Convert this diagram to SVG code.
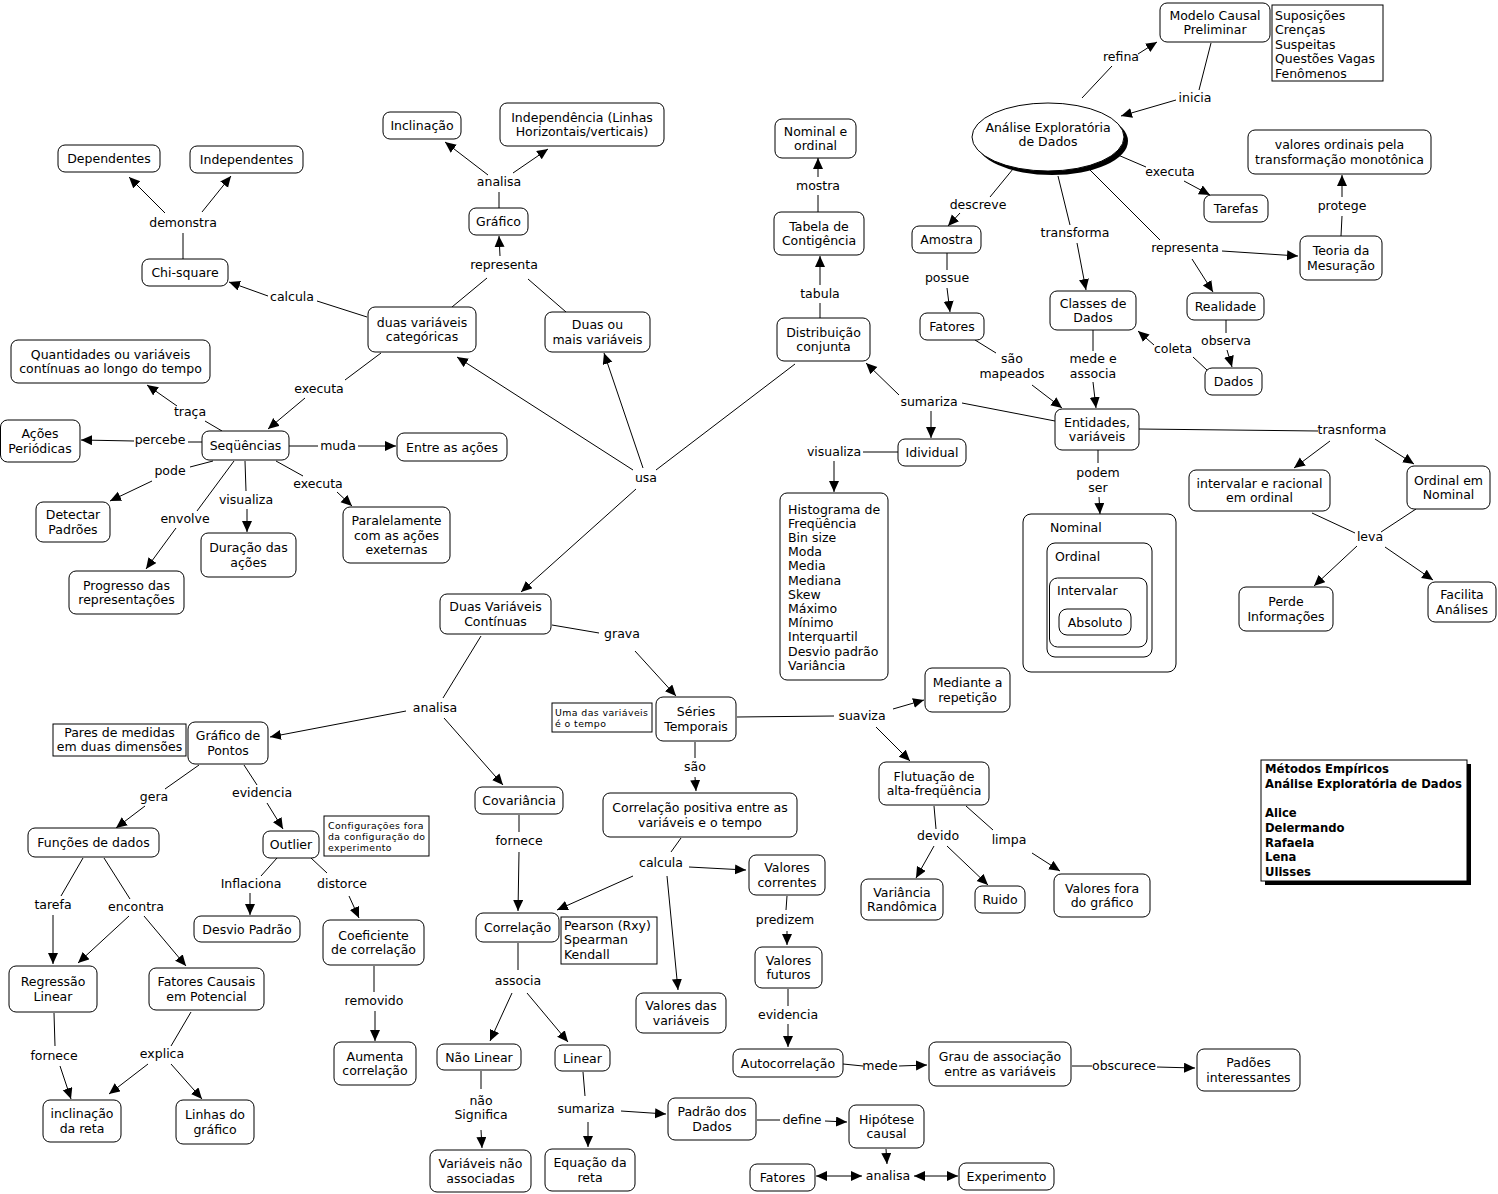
<svg xmlns="http://www.w3.org/2000/svg" width="1498" height="1194" viewBox="0 0 1498 1194">
<defs>
<marker id="ah" markerUnits="userSpaceOnUse" markerWidth="12" markerHeight="11" refX="11" refY="5" orient="auto-start-reverse" viewBox="0 0 12 11"><path d="M0,0 L11,5 L0,10 z" fill="#000"/></marker>
<style>
text{font-family:"DejaVu Sans","Verdana",sans-serif;font-size:12.5px;fill:#000}
.t{text-anchor:middle}
.l{text-anchor:middle}
.sm{font-size:9.4px;letter-spacing:0.4px}
.bd{font-weight:bold;font-size:11.6px}
.n{fill:#fff;stroke:#000;stroke-width:1}
.r{fill:#fff;stroke:#000;stroke-width:1}
#connectors line{stroke:#000;stroke-width:1;fill:none}
#connectors line.a{marker-end:url(#ah)}
#connectors line.b{marker-end:url(#ah);marker-start:url(#ah)}
</style>
</defs>
<rect x="0" y="0" width="1498" height="1194" fill="#fff"/>

<g id="connectors">
<line x1="1082" y1="98" x2="1112" y2="66"/>
<line class="a" x1="1138" y1="54" x2="1157" y2="42"/>
<line x1="1211" y1="43" x2="1199" y2="90"/>
<line class="a" x1="1176" y1="100" x2="1121" y2="116"/>
<line x1="1118" y1="155" x2="1146" y2="167"/>
<line class="a" x1="1184" y1="181" x2="1210" y2="195"/>
<line x1="1013" y1="169" x2="990" y2="197"/>
<line class="a" x1="960" y1="213" x2="948" y2="226"/>
<line x1="1058" y1="176" x2="1070" y2="225"/>
<line class="a" x1="1077" y1="243" x2="1086" y2="290"/>
<line x1="1090" y1="170" x2="1160" y2="240"/>
<line class="a" x1="1222" y1="251" x2="1298" y2="256"/>
<line class="a" x1="1192" y1="259" x2="1213" y2="292"/>
<line x1="1341" y1="236" x2="1342" y2="216"/>
<line class="a" x1="1342" y1="197" x2="1342" y2="175"/>
<line x1="947" y1="253" x2="947" y2="270"/>
<line class="a" x1="947" y1="288" x2="950" y2="312"/>
<line x1="1226" y1="320" x2="1226" y2="333"/>
<line class="a" x1="1227" y1="350" x2="1232" y2="367"/>
<line x1="1207" y1="370" x2="1193" y2="357"/>
<line class="a" x1="1154" y1="345" x2="1138" y2="331"/>
<line x1="1093" y1="330" x2="1093" y2="351"/>
<line class="a" x1="1093" y1="382" x2="1096" y2="408"/>
<line x1="975" y1="340" x2="996" y2="353"/>
<line class="a" x1="1032" y1="385" x2="1062" y2="408"/>
<line x1="1055" y1="421" x2="962" y2="403"/>
<line class="a" x1="899" y1="395" x2="866" y2="363"/>
<line class="a" x1="931" y1="411" x2="931" y2="438"/>
<line x1="898" y1="452" x2="863" y2="452"/>
<line class="a" x1="834" y1="461" x2="834" y2="492"/>
<line x1="820" y1="318" x2="820" y2="303"/>
<line class="a" x1="820" y1="285" x2="820" y2="256"/>
<line x1="818" y1="212" x2="818" y2="195"/>
<line class="a" x1="818" y1="177" x2="818" y2="158"/>
<line x1="1098" y1="450" x2="1098" y2="463"/>
<line class="a" x1="1099" y1="497" x2="1100" y2="514"/>
<line x1="1139" y1="429" x2="1318" y2="431"/>
<line class="a" x1="1330" y1="441" x2="1294" y2="468"/>
<line class="a" x1="1375" y1="439" x2="1414" y2="464"/>
<line x1="1312" y1="513" x2="1355" y2="533"/>
<line x1="1416" y1="509" x2="1381" y2="532"/>
<line class="a" x1="1357" y1="546" x2="1314" y2="586"/>
<line class="a" x1="1385" y1="547" x2="1433" y2="580"/>
<line x1="737" y1="717" x2="834" y2="716"/>
<line class="a" x1="893" y1="709" x2="924" y2="700"/>
<line class="a" x1="876" y1="727" x2="910" y2="761"/>
<line x1="934" y1="806" x2="936" y2="829"/>
<line class="a" x1="934" y1="846" x2="916" y2="878"/>
<line class="a" x1="947" y1="846" x2="988" y2="885"/>
<line x1="966" y1="806" x2="993" y2="830"/>
<line class="a" x1="1032" y1="853" x2="1060" y2="871"/>
<line x1="656" y1="470" x2="795" y2="364"/>
<line class="a" x1="633" y1="470" x2="457" y2="357"/>
<line class="a" x1="643" y1="468" x2="604" y2="353"/>
<line class="a" x1="636" y1="489" x2="521" y2="592"/>
<line x1="566" y1="312" x2="528" y2="279"/>
<line x1="452" y1="307" x2="487" y2="278"/>
<line class="a" x1="500" y1="256" x2="499" y2="236"/>
<line x1="499" y1="208" x2="499" y2="192"/>
<line class="a" x1="488" y1="175" x2="445" y2="142"/>
<line class="a" x1="513" y1="173" x2="548" y2="149"/>
<line x1="183" y1="259" x2="183" y2="233"/>
<line class="a" x1="165" y1="213" x2="129" y2="177"/>
<line class="a" x1="202" y1="212" x2="231" y2="176"/>
<line x1="367" y1="317" x2="317" y2="301"/>
<line class="a" x1="268" y1="296" x2="229" y2="282"/>
<line x1="381" y1="353" x2="345" y2="380"/>
<line class="a" x1="305" y1="398" x2="268" y2="429"/>
<line x1="222" y1="431" x2="205" y2="421"/>
<line class="a" x1="177" y1="406" x2="147" y2="385"/>
<line x1="202" y1="442" x2="188" y2="442"/>
<line class="a" x1="134" y1="441" x2="81" y2="440"/>
<line x1="289" y1="446" x2="318" y2="446"/>
<line class="a" x1="358" y1="446" x2="396" y2="446"/>
<line x1="213" y1="461" x2="190" y2="467"/>
<line class="a" x1="152" y1="481" x2="110" y2="501"/>
<line x1="245" y1="461" x2="246" y2="491"/>
<line class="a" x1="247" y1="509" x2="247" y2="532"/>
<line x1="276" y1="461" x2="303" y2="476"/>
<line class="a" x1="337" y1="492" x2="352" y2="506"/>
<line x1="234" y1="461" x2="197" y2="511"/>
<line class="a" x1="176" y1="528" x2="146" y2="569"/>
<line x1="552" y1="625" x2="599" y2="633"/>
<line class="a" x1="635" y1="651" x2="676" y2="696"/>
<line x1="481" y1="636" x2="443" y2="698"/>
<line class="a" x1="406" y1="711" x2="270" y2="737"/>
<line class="a" x1="444" y1="718" x2="503" y2="785"/>
<line x1="199" y1="765" x2="165" y2="789"/>
<line class="a" x1="145" y1="806" x2="116" y2="828"/>
<line x1="244" y1="765" x2="257" y2="785"/>
<line class="a" x1="267" y1="803" x2="283" y2="829"/>
<line x1="277" y1="858" x2="261" y2="876"/>
<line class="a" x1="250" y1="893" x2="250" y2="915"/>
<line x1="311" y1="858" x2="327" y2="873"/>
<line class="a" x1="349" y1="896" x2="359" y2="918"/>
<line x1="374" y1="966" x2="374" y2="992"/>
<line class="a" x1="375" y1="1011" x2="375" y2="1041"/>
<line x1="83" y1="858" x2="61" y2="896"/>
<line class="a" x1="53" y1="915" x2="53" y2="964"/>
<line x1="104" y1="858" x2="130" y2="899"/>
<line class="a" x1="129" y1="916" x2="78" y2="963"/>
<line class="a" x1="144" y1="916" x2="186" y2="966"/>
<line x1="54" y1="1013" x2="55" y2="1046"/>
<line class="a" x1="60" y1="1066" x2="71" y2="1099"/>
<line x1="191" y1="1012" x2="171" y2="1046"/>
<line class="a" x1="148" y1="1064" x2="109" y2="1094"/>
<line class="a" x1="171" y1="1064" x2="202" y2="1099"/>
<line x1="519" y1="815" x2="519" y2="832"/>
<line class="a" x1="519" y1="852" x2="518" y2="911"/>
<line x1="695" y1="742" x2="695" y2="758"/>
<line class="a" x1="695" y1="777" x2="696" y2="791"/>
<line x1="681" y1="838" x2="671" y2="852"/>
<line class="a" x1="633" y1="876" x2="557" y2="910"/>
<line class="a" x1="667" y1="876" x2="678" y2="990"/>
<line class="a" x1="689" y1="867" x2="746" y2="870"/>
<line x1="518" y1="943" x2="518" y2="970"/>
<line class="a" x1="512" y1="993" x2="490" y2="1041"/>
<line class="a" x1="527" y1="993" x2="568" y2="1042"/>
<line x1="481" y1="1071" x2="481" y2="1089"/>
<line class="a" x1="481" y1="1130" x2="482" y2="1148"/>
<line x1="583" y1="1072" x2="585" y2="1096"/>
<line class="a" x1="588" y1="1122" x2="588" y2="1147"/>
<line class="a" x1="621" y1="1111" x2="666" y2="1114"/>
<line x1="787" y1="896" x2="786" y2="910"/>
<line class="a" x1="787" y1="931" x2="787" y2="945"/>
<line x1="788" y1="989" x2="788" y2="1006"/>
<line class="a" x1="788" y1="1024" x2="788" y2="1047"/>
<line x1="843" y1="1064" x2="863" y2="1066"/>
<line class="a" x1="899" y1="1066" x2="927" y2="1065"/>
<line x1="1072" y1="1066" x2="1092" y2="1066"/>
<line class="a" x1="1157" y1="1067" x2="1195" y2="1068"/>
<line x1="757" y1="1120" x2="780" y2="1120"/>
<line class="a" x1="825" y1="1121" x2="847" y2="1122"/>
<line class="a" x1="886" y1="1149" x2="887" y2="1164"/>
<line class="b" x1="862" y1="1176" x2="816" y2="1176"/>
<line class="b" x1="914" y1="1176" x2="958" y2="1176"/>
</g>

<g id="labels">
<text class="l" x="1121" y="61">refina</text>
<text class="l" x="1195" y="102">inicia</text>
<text class="l" x="1170" y="176">executa</text>
<text class="l" x="978" y="209">descreve</text>
<text class="l" x="1075" y="237">transforma</text>
<text class="l" x="1185" y="252">representa</text>
<text class="l" x="1342" y="210">protege</text>
<text class="l" x="947" y="282">possue</text>
<text class="l" x="1226" y="345">observa</text>
<text class="l" x="1173" y="353">coleta</text>
<text class="l" x="1093" y="363">mede e</text>
<text class="l" x="1093" y="378">associa</text>
<text class="l" x="1012" y="363">são</text>
<text class="l" x="1012" y="378">mapeados</text>
<text class="l" x="929" y="406">sumariza</text>
<text class="l" x="834" y="456">visualiza</text>
<text class="l" x="820" y="298">tabula</text>
<text class="l" x="818" y="190">mostra</text>
<text class="l" x="1098" y="477">podem</text>
<text class="l" x="1098" y="492">ser</text>
<text class="l" x="1352" y="434">trasnforma</text>
<text class="l" x="1370" y="541">leva</text>
<text class="l" x="862" y="720">suaviza</text>
<text class="l" x="938" y="840">devido</text>
<text class="l" x="1009" y="844">limpa</text>
<text class="l" x="646" y="482">usa</text>
<text class="l" x="504" y="269">representa</text>
<text class="l" x="499" y="186">analisa</text>
<text class="l" x="183" y="227">demonstra</text>
<text class="l" x="292" y="301">calcula</text>
<text class="l" x="319" y="393">executa</text>
<text class="l" x="190" y="416">traça</text>
<text class="l" x="160" y="444">percebe</text>
<text class="l" x="338" y="450">muda</text>
<text class="l" x="170" y="475">pode</text>
<text class="l" x="246" y="504">visualiza</text>
<text class="l" x="318" y="488">executa</text>
<text class="l" x="185" y="523">envolve</text>
<text class="l" x="622" y="638">grava</text>
<text class="l" x="435" y="712">analisa</text>
<text class="l" x="154" y="801">gera</text>
<text class="l" x="262" y="797">evidencia</text>
<text class="l" x="251" y="888">Inflaciona</text>
<text class="l" x="342" y="888">distorce</text>
<text class="l" x="374" y="1005">removido</text>
<text class="l" x="53" y="909">tarefa</text>
<text class="l" x="136" y="911">encontra</text>
<text class="l" x="54" y="1060">fornece</text>
<text class="l" x="162" y="1058">explica</text>
<text class="l" x="519" y="845">fornece</text>
<text class="l" x="695" y="771">são</text>
<text class="l" x="661" y="867">calcula</text>
<text class="l" x="518" y="985">associa</text>
<text class="l" x="481" y="1105">não</text>
<text class="l" x="481" y="1119">Significa</text>
<text class="l" x="586" y="1113">sumariza</text>
<text class="l" x="785" y="924">predizem</text>
<text class="l" x="788" y="1019">evidencia</text>
<text class="l" x="880" y="1070">mede</text>
<text class="l" x="1124" y="1070">obscurece</text>
<text class="l" x="802" y="1124">define</text>
<text class="l" x="888" y="1180">analisa</text>
</g>

<g id="n-modelo"><rect class="n" x="1160" y="3" width="110" height="39" rx="7"/><text class="t" x="1215" y="19.75">Modelo Causal</text><text class="t" x="1215" y="34.25">Preliminar</text></g>
<g id="n-suposicoes"><rect class="r" x="1272" y="5" width="111" height="76"/><text x="1275" y="19.5">Suposições</text><text x="1275" y="34">Crenças</text><text x="1275" y="48.5">Suspeitas</text><text x="1275" y="63">Questões Vagas</text><text x="1275" y="77.5">Fenômenos</text></g>
<g id="n-aed"><ellipse cx="1052" cy="141" rx="76" ry="34" fill="#000"/><ellipse cx="1048" cy="137" rx="76" ry="34" fill="#fff" stroke="#000"/><text class="t" x="1048" y="131.5">Análise Exploratória</text><text class="t" x="1048" y="146">de Dados</text></g>
<g id="n-tarefas"><rect class="n" x="1204" y="195" width="64" height="27" rx="7"/><text class="t" x="1236" y="213">Tarefas</text></g>
<g id="n-valord"><rect class="n" x="1248" y="130" width="183" height="44" rx="7"/><text class="t" x="1339.5" y="149.25">valores ordinais pela</text><text class="t" x="1339.5" y="163.75">transformação monotônica</text></g>
<g id="n-teoria"><rect class="n" x="1300" y="236" width="82" height="44" rx="7"/><text class="t" x="1341" y="255.25">Teoria da</text><text class="t" x="1341" y="269.75">Mesuração</text></g>
<g id="n-amostra"><rect class="n" x="912" y="226" width="69" height="27" rx="7"/><text class="t" x="946.5" y="244">Amostra</text></g>
<g id="n-fatores1"><rect class="n" x="920" y="313" width="64" height="27" rx="7"/><text class="t" x="952" y="331">Fatores</text></g>
<g id="n-classes"><rect class="n" x="1050" y="291" width="86" height="39" rx="7"/><text class="t" x="1093" y="307.75">Classes de</text><text class="t" x="1093" y="322.25">Dados</text></g>
<g id="n-realidade"><rect class="n" x="1187" y="293" width="77" height="27" rx="7"/><text class="t" x="1225.5" y="311">Realidade</text></g>
<g id="n-dados"><rect class="n" x="1205" y="368" width="57" height="27" rx="7"/><text class="t" x="1233.5" y="386">Dados</text></g>
<g id="n-entidades"><rect class="n" x="1055" y="409" width="84" height="41" rx="7"/><text class="t" x="1097" y="426.75">Entidades,</text><text class="t" x="1097" y="441.25">variáveis</text></g>
<g id="n-distrib"><rect class="n" x="777" y="318" width="93" height="43" rx="7"/><text class="t" x="823.5" y="336.75">Distribuição</text><text class="t" x="823.5" y="351.25">conjunta</text></g>
<g id="n-tabela"><rect class="n" x="774" y="212" width="90" height="43" rx="7"/><text class="t" x="819" y="230.75">Tabela de</text><text class="t" x="819" y="245.25">Contigência</text></g>
<g id="n-nomord"><rect class="n" x="775" y="119" width="81" height="39" rx="7"/><text class="t" x="815.5" y="135.75">Nominal e</text><text class="t" x="815.5" y="150.25">ordinal</text></g>
<g id="n-idividual"><rect class="n" x="898" y="439" width="68" height="27" rx="7"/><text class="t" x="932" y="457">Idividual</text></g>
<g id="n-hist"><rect class="n" x="780" y="493" width="108" height="187" rx="7"/>
<text x="788" y="513.5">Histograma de</text><text x="788" y="527.7">Freqüência</text><text x="788" y="541.9">Bin size</text><text x="788" y="556.1">Moda</text><text x="788" y="570.3">Media</text><text x="788" y="584.5">Mediana</text><text x="788" y="598.7">Skew</text><text x="788" y="612.9">Máximo</text><text x="788" y="627.1">Mínimo</text><text x="788" y="641.3">Interquartil</text><text x="788" y="655.5">Desvio padrão</text><text x="788" y="669.7">Variância</text></g>
<g id="n-escalas"><rect class="n" x="1023" y="514" width="153" height="158" rx="8"/><text x="1050" y="531.5">Nominal</text>
<rect class="n" x="1047" y="543" width="105" height="114" rx="8"/><text x="1055" y="560.5">Ordinal</text>
<rect class="n" x="1049.5" y="578" width="97.5" height="69" rx="8"/><text x="1057" y="595">Intervalar</text>
<rect class="n" x="1059" y="609" width="72" height="26" rx="8"/><text class="t" x="1095" y="626.5">Absoluto</text></g>
<g id="n-intrac"><rect class="n" x="1189" y="470" width="141" height="41" rx="7"/><text class="t" x="1259.5" y="487.75">intervalar e racional</text><text class="t" x="1259.5" y="502.25">em ordinal</text></g>
<g id="n-ordnom"><rect class="n" x="1407" y="466" width="83" height="43" rx="7"/><text class="t" x="1448.5" y="484.75">Ordinal em</text><text class="t" x="1448.5" y="499.25">Nominal</text></g>
<g id="n-perde"><rect class="n" x="1239" y="587" width="94" height="44" rx="7"/><text class="t" x="1286" y="606.25">Perde</text><text class="t" x="1286" y="620.75">Informações</text></g>
<g id="n-facilita"><rect class="n" x="1428" y="582" width="68" height="40" rx="7"/><text class="t" x="1462" y="599.25">Facilita</text><text class="t" x="1462" y="613.75">Análises</text></g>
<g id="n-mediante"><rect class="n" x="925" y="668" width="85" height="44" rx="7"/><text class="t" x="967.5" y="687.25">Mediante a</text><text class="t" x="967.5" y="701.75">repetição</text></g>
<g id="n-flutuacao"><rect class="n" x="879" y="762" width="110" height="43" rx="7"/><text class="t" x="934" y="780.75">Flutuação de</text><text class="t" x="934" y="795.25">alta-freqüência</text></g>
<g id="n-varrand"><rect class="n" x="861" y="879" width="82" height="41" rx="7"/><text class="t" x="902" y="896.75">Variância</text><text class="t" x="902" y="911.25">Randômica</text></g>
<g id="n-ruido"><rect class="n" x="975" y="886" width="50" height="27" rx="7"/><text class="t" x="1000" y="904">Ruido</text></g>
<g id="n-valfora"><rect class="n" x="1054" y="874" width="96" height="43" rx="7"/><text class="t" x="1102" y="892.75">Valores fora</text><text class="t" x="1102" y="907.25">do gráfico</text></g>
<g id="n-legenda"><rect x="1265" y="764" width="206" height="121" fill="#000"/><rect class="r" x="1261" y="760" width="206" height="121"/>
<text class="bd" x="1265" y="773">Métodos Empíricos</text><text class="bd" x="1265" y="788">Análise Exploratória de Dados</text><text class="bd" x="1265" y="817">Alice</text><text class="bd" x="1265" y="832">Delermando</text><text class="bd" x="1265" y="846.5">Rafaela</text><text class="bd" x="1265" y="861">Lena</text><text class="bd" x="1265" y="876">Ulisses</text></g>

<g id="n-inclinacao"><rect class="n" x="383" y="112" width="78" height="27" rx="7"/><text class="t" x="422" y="130">Inclinação</text></g>
<g id="n-independencia"><rect class="n" x="500" y="103" width="164" height="43" rx="7"/><text class="t" x="582" y="121.75">Independência (Linhas</text><text class="t" x="582" y="136.25">Horizontais/verticais)</text></g>
<g id="n-grafico"><rect class="n" x="469" y="208" width="59" height="27" rx="7"/><text class="t" x="498.5" y="226">Gráfico</text></g>
<g id="n-duasmais"><rect class="n" x="545" y="312" width="105" height="40" rx="7"/><text class="t" x="597.5" y="329.25">Duas ou</text><text class="t" x="597.5" y="343.75">mais variáveis</text></g>
<g id="n-duascat"><rect class="n" x="368" y="307" width="108" height="45" rx="7"/><text class="t" x="422" y="326.75">duas variáveis</text><text class="t" x="422" y="341.25">categóricas</text></g>
<g id="n-dependentes"><rect class="n" x="58" y="145" width="102" height="27" rx="7"/><text class="t" x="109" y="163">Dependentes</text></g>
<g id="n-independentes"><rect class="n" x="190" y="146" width="113" height="27" rx="7"/><text class="t" x="246.5" y="164">Independentes</text></g>
<g id="n-chisquare"><rect class="n" x="142" y="259" width="86" height="27" rx="7"/><text class="t" x="185" y="277">Chi-square</text></g>
<g id="n-quantidades"><rect class="n" x="11" y="340" width="199" height="43" rx="7"/><text class="t" x="110.5" y="358.75">Quantidades ou variáveis</text><text class="t" x="110.5" y="373.25">contínuas ao longo do tempo</text></g>
<g id="n-acoes"><rect class="n" x="0.5" y="420" width="79.5" height="42" rx="7"/><text class="t" x="40" y="438.25">Ações</text><text class="t" x="40" y="452.75">Periódicas</text></g>
<g id="n-sequencias"><rect class="n" x="202" y="431" width="87" height="29" rx="7"/><text class="t" x="245.5" y="450">Seqüências</text></g>
<g id="n-entreacoes"><rect class="n" x="397" y="433" width="110" height="28" rx="7"/><text class="t" x="452" y="451.5">Entre as ações</text></g>
<g id="n-detectar"><rect class="n" x="36" y="502" width="74" height="40" rx="7"/><text class="t" x="73" y="519.25">Detectar</text><text class="t" x="73" y="533.75">Padrões</text></g>
<g id="n-duracao"><rect class="n" x="201" y="533" width="95" height="44" rx="7"/><text class="t" x="248.5" y="552.25">Duração das</text><text class="t" x="248.5" y="566.75">ações</text></g>
<g id="n-paralelamente"><rect class="n" x="343" y="507" width="107" height="56" rx="7"/><text class="t" x="396.5" y="525">Paralelamente</text><text class="t" x="396.5" y="539.5">com as ações</text><text class="t" x="396.5" y="554">exeternas</text></g>
<g id="n-progresso"><rect class="n" x="69" y="571" width="115" height="43" rx="7"/><text class="t" x="126.5" y="589.75">Progresso das</text><text class="t" x="126.5" y="604.25">representações</text></g>
<g id="n-duascont"><rect class="n" x="440" y="594" width="111" height="40" rx="7"/><text class="t" x="495.5" y="611.25">Duas Variáveis</text><text class="t" x="495.5" y="625.75">Contínuas</text></g>
<g id="n-series"><rect class="n" x="656" y="697" width="80" height="44" rx="7"/><text class="t" x="696" y="716.25">Séries</text><text class="t" x="696" y="730.75">Temporais</text></g>
<g id="n-umadas"><rect class="r" x="552" y="703" width="100" height="29"/><text class="sm" x="555" y="716">Uma das variáveis</text><text class="sm" x="555" y="727">é o tempo</text></g>
<g id="n-pares"><rect class="r" x="53" y="724" width="133" height="32"/><text class="t" x="119.5" y="737.25">Pares de medidas</text><text class="t" x="119.5" y="751.25">em duas dimensões</text></g>
<g id="n-graficopontos"><rect class="n" x="188" y="722" width="80" height="42" rx="7"/><text class="t" x="228" y="740.25">Gráfico de</text><text class="t" x="228" y="754.75">Pontos</text></g>
<g id="n-funcoes"><rect class="n" x="28" y="828" width="131" height="29" rx="7"/><text class="t" x="93.5" y="847">Funções de dados</text></g>
<g id="n-outlier"><rect class="n" x="263" y="831" width="56" height="27" rx="7"/><text class="t" x="291" y="849">Outlier</text></g>
<g id="n-config"><rect class="r" x="324" y="816" width="105" height="40"/><text class="sm" x="328" y="828.5">Configurações fora</text><text class="sm" x="328" y="839.5">da configuração do</text><text class="sm" x="328" y="850.5">experimento</text></g>
<g id="n-desviopadrao"><rect class="n" x="194" y="916" width="106" height="26" rx="7"/><text class="t" x="247" y="933.5">Desvio Padrão</text></g>
<g id="n-coeficiente"><rect class="n" x="323" y="920" width="101" height="45" rx="7"/><text class="t" x="373.5" y="939.75">Coeficiente</text><text class="t" x="373.5" y="954.25">de correlação</text></g>
<g id="n-regressao"><rect class="n" x="9" y="966" width="88" height="46" rx="7"/><text class="t" x="53" y="986.25">Regressão</text><text class="t" x="53" y="1000.75">Linear</text></g>
<g id="n-fatorescausais"><rect class="n" x="149" y="968" width="115" height="42" rx="7"/><text class="t" x="206.5" y="986.25">Fatores Causais</text><text class="t" x="206.5" y="1000.75">em Potencial</text></g>
<g id="n-aumenta"><rect class="n" x="334" y="1042" width="82" height="43" rx="7"/><text class="t" x="375" y="1060.75">Aumenta</text><text class="t" x="375" y="1075.25">correlação</text></g>
<g id="n-inclreta"><rect class="n" x="43" y="1100" width="78" height="42" rx="7"/><text class="t" x="82" y="1118.25">inclinação</text><text class="t" x="82" y="1132.75">da reta</text></g>
<g id="n-linhas"><rect class="n" x="176" y="1100" width="78" height="44" rx="7"/><text class="t" x="215" y="1119.25">Linhas do</text><text class="t" x="215" y="1133.75">gráfico</text></g>
<g id="n-covariancia"><rect class="n" x="475" y="787" width="88" height="27" rx="7"/><text class="t" x="519" y="805">Covariância</text></g>
<g id="n-corrpos"><rect class="n" x="603" y="793" width="194" height="44" rx="7"/><text class="t" x="700" y="812.25">Correlação positiva entre as</text><text class="t" x="700" y="826.75">variáveis e o tempo</text></g>
<g id="n-valcorr"><rect class="n" x="749" y="855" width="76" height="40" rx="7"/><text class="t" x="787" y="872.25">Valores</text><text class="t" x="787" y="886.75">correntes</text></g>
<g id="n-correlacao"><rect class="n" x="476" y="913" width="83" height="29" rx="7"/><text class="t" x="517.5" y="932">Correlação</text></g>
<g id="n-pearson"><rect class="r" x="561" y="917" width="96" height="47"/><text x="564" y="929.5">Pearson (Rxy)</text><text x="564" y="944">Spearman</text><text x="564" y="958.5">Kendall</text></g>
<g id="n-valdas"><rect class="n" x="636" y="993" width="90" height="40" rx="7"/><text class="t" x="681" y="1010.25">Valores das</text><text class="t" x="681" y="1024.75">variáveis</text></g>
<g id="n-valfut"><rect class="n" x="755" y="947" width="67" height="41" rx="7"/><text class="t" x="788.5" y="964.75">Valores</text><text class="t" x="788.5" y="979.25">futuros</text></g>
<g id="n-naolinear"><rect class="n" x="437" y="1044" width="84" height="26" rx="7"/><text class="t" x="479" y="1061.5">Não Linear</text></g>
<g id="n-linear"><rect class="n" x="555" y="1045" width="55" height="26" rx="7"/><text class="t" x="582.5" y="1062.5">Linear</text></g>
<g id="n-autocorr"><rect class="n" x="733" y="1049" width="110" height="28" rx="7"/><text class="t" x="788" y="1067.5">Autocorrelação</text></g>
<g id="n-grau"><rect class="n" x="929" y="1042" width="142" height="44" rx="7"/><text class="t" x="1000" y="1061.25">Grau de associação</text><text class="t" x="1000" y="1075.75">entre as variáveis</text></g>
<g id="n-padoes"><rect class="n" x="1197" y="1049" width="103" height="42" rx="7"/><text class="t" x="1248.5" y="1067.25">Padões</text><text class="t" x="1248.5" y="1081.75">interessantes</text></g>
<g id="n-padrao"><rect class="n" x="668" y="1098" width="88" height="42" rx="7"/><text class="t" x="712" y="1116.25">Padrão dos</text><text class="t" x="712" y="1130.75">Dados</text></g>
<g id="n-hipotese"><rect class="n" x="849" y="1105" width="75" height="43" rx="7"/><text class="t" x="886.5" y="1123.75">Hipótese</text><text class="t" x="886.5" y="1138.25">causal</text></g>
<g id="n-varnao"><rect class="n" x="430" y="1150" width="101" height="42" rx="7"/><text class="t" x="480.5" y="1168.25">Variáveis não</text><text class="t" x="480.5" y="1182.75">associadas</text></g>
<g id="n-equacao"><rect class="n" x="545" y="1149" width="90" height="42" rx="7"/><text class="t" x="590" y="1167.25">Equação da</text><text class="t" x="590" y="1181.75">reta</text></g>
<g id="n-fatores2"><rect class="n" x="750" y="1164" width="65" height="27" rx="7"/><text class="t" x="782.5" y="1182">Fatores</text></g>
<g id="n-experimento"><rect class="n" x="959" y="1163" width="95" height="27" rx="7"/><text class="t" x="1006.5" y="1181">Experimento</text></g>
</svg>
